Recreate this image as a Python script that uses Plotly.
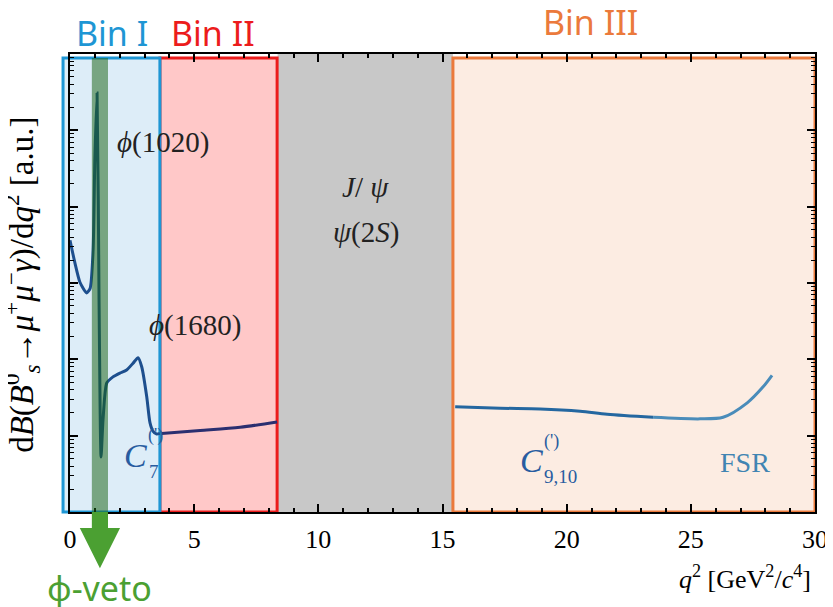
import plotly.graph_objects as go

# ---------------- data ----------------
# Bin I curve (q^2 in GeV^2/c^4, dB/dq^2 in a.u.)
q_bin1 = [0.0, 0.2, 0.4, 0.67, 0.81, 0.93, 1.0, 1.09, 1.17, 1.25, 1.33, 1.48, 1.73,
          2.01, 2.28, 2.54, 2.74, 2.89, 3.09, 3.22, 3.34, 3.49, 3.62]
y_bin1 = [3630, 1820, 1023, 741, 851, 2690, 40700, 309000, 603, 5.25, 16.2, 49, 58.9,
          66.1, 72.4, 89.1, 105, 79.4, 32.4, 14.8, 11.5, 10.5, 10.7]
# Bin II curve
q_bin2 = [3.69, 5.24, 6.85, 8.34]
y_bin2 = [10.7, 11.7, 12.9, 15.1]
# Bin III curve (C9,10 part and FSR part)
q_bin3a = [15.51, 17.32, 18.93, 20.54, 21.63, 23.48]
y_bin3a = [24.0, 22.9, 22.4, 20.9, 19.1, 17.4]
q_bin3b = [23.48, 25.37, 26.30, 27.27, 27.91, 28.27]
y_bin3b = [17.4, 16.6, 17.4, 26.9, 43.6, 61.7]

# region edges in q^2
bin1_edges = [-0.28, 3.62]
bin2_edges = [3.62, 8.34]
charm_edges = [8.36, 15.42]
bin3_edges = [15.42, 30.0]
veto_edges = [0.88, 1.53]

x_ticks = [0, 5, 10, 15, 20, 25, 30]
x_range = [0, 30]
y_log_range = [0, 6]

bin_labels = ["Bin I", "Bin II", "Bin III"]

# ---------------- figure ----------------
SERIF = "Liberation Serif"
SANS = "Noto Sans"

def xp(q):
    return (q - x_range[0]) / (x_range[1] - x_range[0])

BOX_TOP = 0.991

fig = go.Figure()

fig.add_trace(go.Scatter(x=q_bin1, y=y_bin1, mode="lines",
                         line=dict(color="#1d4f8e", width=3, shape="spline", smoothing=0.6),
                         hoverinfo="skip"))
fig.add_trace(go.Scatter(x=q_bin2, y=y_bin2, mode="lines",
                         line=dict(color="#2b2f70", width=3, shape="spline", smoothing=0.8),
                         hoverinfo="skip"))
fig.add_trace(go.Scatter(x=q_bin3a, y=y_bin3a, mode="lines",
                         line=dict(color="#2467a0", width=3, shape="spline", smoothing=0.8),
                         hoverinfo="skip"))
fig.add_trace(go.Scatter(x=q_bin3b, y=y_bin3b, mode="lines",
                         line=dict(color="#4a8cba", width=3, shape="spline", smoothing=0.8),
                         hoverinfo="skip"))

shapes = []
# charmonium grey region
shapes.append(dict(type="rect", xref="paper", yref="paper",
                   x0=xp(charm_edges[0]), x1=xp(charm_edges[1]), y0=0, y1=1,
                   fillcolor="rgb(200,200,200)", line=dict(width=0), layer="below"))
# Bin III
shapes.append(dict(type="rect", xref="paper", yref="paper",
                   x0=xp(bin3_edges[0]), x1=xp(bin3_edges[1]), y0=0, y1=BOX_TOP,
                   fillcolor="rgb(252,236,226)", line=dict(color="rgb(235,122,60)", width=3),
                   layer="below"))
# Bin II
shapes.append(dict(type="rect", xref="paper", yref="paper",
                   x0=xp(bin2_edges[0]), x1=xp(bin2_edges[1]), y0=0, y1=BOX_TOP,
                   fillcolor="rgb(255,200,200)", line=dict(color="rgb(236,28,28)", width=3),
                   layer="below"))
# Bin I
shapes.append(dict(type="rect", xref="paper", yref="paper",
                   x0=xp(bin1_edges[0]), x1=xp(bin1_edges[1]), y0=0, y1=BOX_TOP,
                   fillcolor="rgb(221,237,248)", line=dict(color="rgb(30,150,212)", width=3),
                   layer="below"))
# phi veto band (above curve)
shapes.append(dict(type="rect", xref="paper", yref="paper",
                   x0=xp(veto_edges[0]), x1=xp(veto_edges[1]), y0=0, y1=BOX_TOP,
                   fillcolor="rgba(25,100,20,0.52)", line=dict(width=0), layer="above"))
# arrow below the veto band
vx0, vx1 = xp(veto_edges[0]), xp(veto_edges[1])
vc = (vx0 + vx1) / 2
hw = 0.027
shaft_bot = -0.035
tip = -0.123
arrow_path = (f"M {vx0},0 L {vx1},0 L {vx1},{shaft_bot} L {vc+hw},{shaft_bot} "
              f"L {vc},{tip} L {vc-hw},{shaft_bot} L {vx0},{shaft_bot} Z")
shapes.append(dict(type="path", xref="paper", yref="paper", path=arrow_path,
                   fillcolor="rgb(75,160,50)", line=dict(width=0), layer="above"))

annotations = []

def ann(text, x, y, size, color, family=SERIF, xref="paper", xanchor="center", xshift=0, angle=0):
    annotations.append(dict(text=text, x=x, y=y, xref=xref, yref="paper",
                            xanchor=xanchor, yanchor="middle", xshift=xshift,
                            textangle=angle, showarrow=False,
                            font=dict(family=family, size=size, color=color)))

# bin labels above
ann(bin_labels[0], xp(1.69), 1.046, 34, "rgb(30,150,212)", SANS)
ann(bin_labels[1], xp(5.76), 1.046, 34, "rgb(236,28,28)", SANS)
ann(bin_labels[2], xp(20.94), 1.070, 34, "rgb(235,122,60)", SANS)
# phi-veto
ann("ϕ-veto", vc, -0.166, 34, "rgb(75,160,50)", SANS)
# resonance labels
dark = "#222222"
ann("<i>ϕ</i>(1020)", 1.8, 0.806, 29, dark, xref="x", xanchor="left")
ann("<i>ϕ</i>(1680)", 3.1, 0.408, 29, dark, xref="x", xanchor="left")
ann("<i>J</i>/ <i>ψ</i>", 11.9, 0.710, 29, dark, xref="x")
ann("<i>ψ</i>(2<i>S</i>)", 11.9, 0.611, 29, dark, xref="x")
# Wilson coefficient labels
cblue = "rgb(40,92,160)"
ann("<i>C</i>", 2.09, 0.124, 34, cblue, xref="x", xanchor="left")
ann("(')", 2.09, 0.166, 18, cblue, xref="x", xanchor="left", xshift=24)
ann("7", 2.09, 0.088, 19, cblue, xref="x", xanchor="left", xshift=25)
ann("<i>C</i>", 18.04, 0.113, 34, cblue, xref="x", xanchor="left")
ann("(')", 18.04, 0.155, 18, cblue, xref="x", xanchor="left", xshift=24)
ann("9,10", 18.04, 0.078, 19, cblue, xref="x", xanchor="left", xshift=24)
ann("FSR", 27.18, 0.109, 28, "rgb(65,132,178)", xref="x")
# axis titles
ann("d<i>B</i>(<i>B</i><sup>0</sup><sub><i>s</i></sub>→<i>μ</i><sup>+</sup><i>μ</i><sup>−</sup><i>γ</i>)/d<i>q</i><sup>2</sup> [a.u.]",
    -0.0644, 0.496, 33, "black", angle=-90)
ann("<i>q</i><sup>2</sup> [GeV<sup>2</sup>/<i>c</i><sup>4</sup>]", 0.997, -0.142, 26, "black",
    xanchor="right")

minor_y = [k * 10 ** d for d in range(0, 6) for k in range(2, 10)]

# page body has an 8px margin: figure drawn at (8, 8)
fig.update_layout(
    width=825, height=599,
    margin=dict(l=62, r=18, t=46, b=95, autoexpand=False),
    paper_bgcolor="white", plot_bgcolor="white",
    showlegend=False,
    shapes=shapes, annotations=annotations,
    xaxis=dict(range=x_range, tickvals=x_ticks, ticktext=[str(v) for v in x_ticks],
               ticks="inside", ticklen=8, tickwidth=1.5, tickcolor="black",
               showline=True, linecolor="black", linewidth=2, mirror="ticks",
               showgrid=False, zeroline=False, ticklabelstandoff=3, automargin=False,
               tickfont=dict(family=SERIF, size=26, color="black"),
               minor=dict(ticks="inside", ticklen=4, dtick=1, tickcolor="black", tickwidth=1.5)),
    yaxis=dict(type="log", range=y_log_range, dtick=1, showticklabels=False,
               ticks="inside", ticklen=8, tickwidth=1.5, tickcolor="black",
               showline=True, linecolor="black", linewidth=2, mirror="ticks",
               showgrid=False, zeroline=False, automargin=False,
               minor=dict(ticks="inside", ticklen=4, tickmode="array", tickvals=minor_y,
                          tickcolor="black", tickwidth=1.2)),
)

fig.write_html("out.html")
